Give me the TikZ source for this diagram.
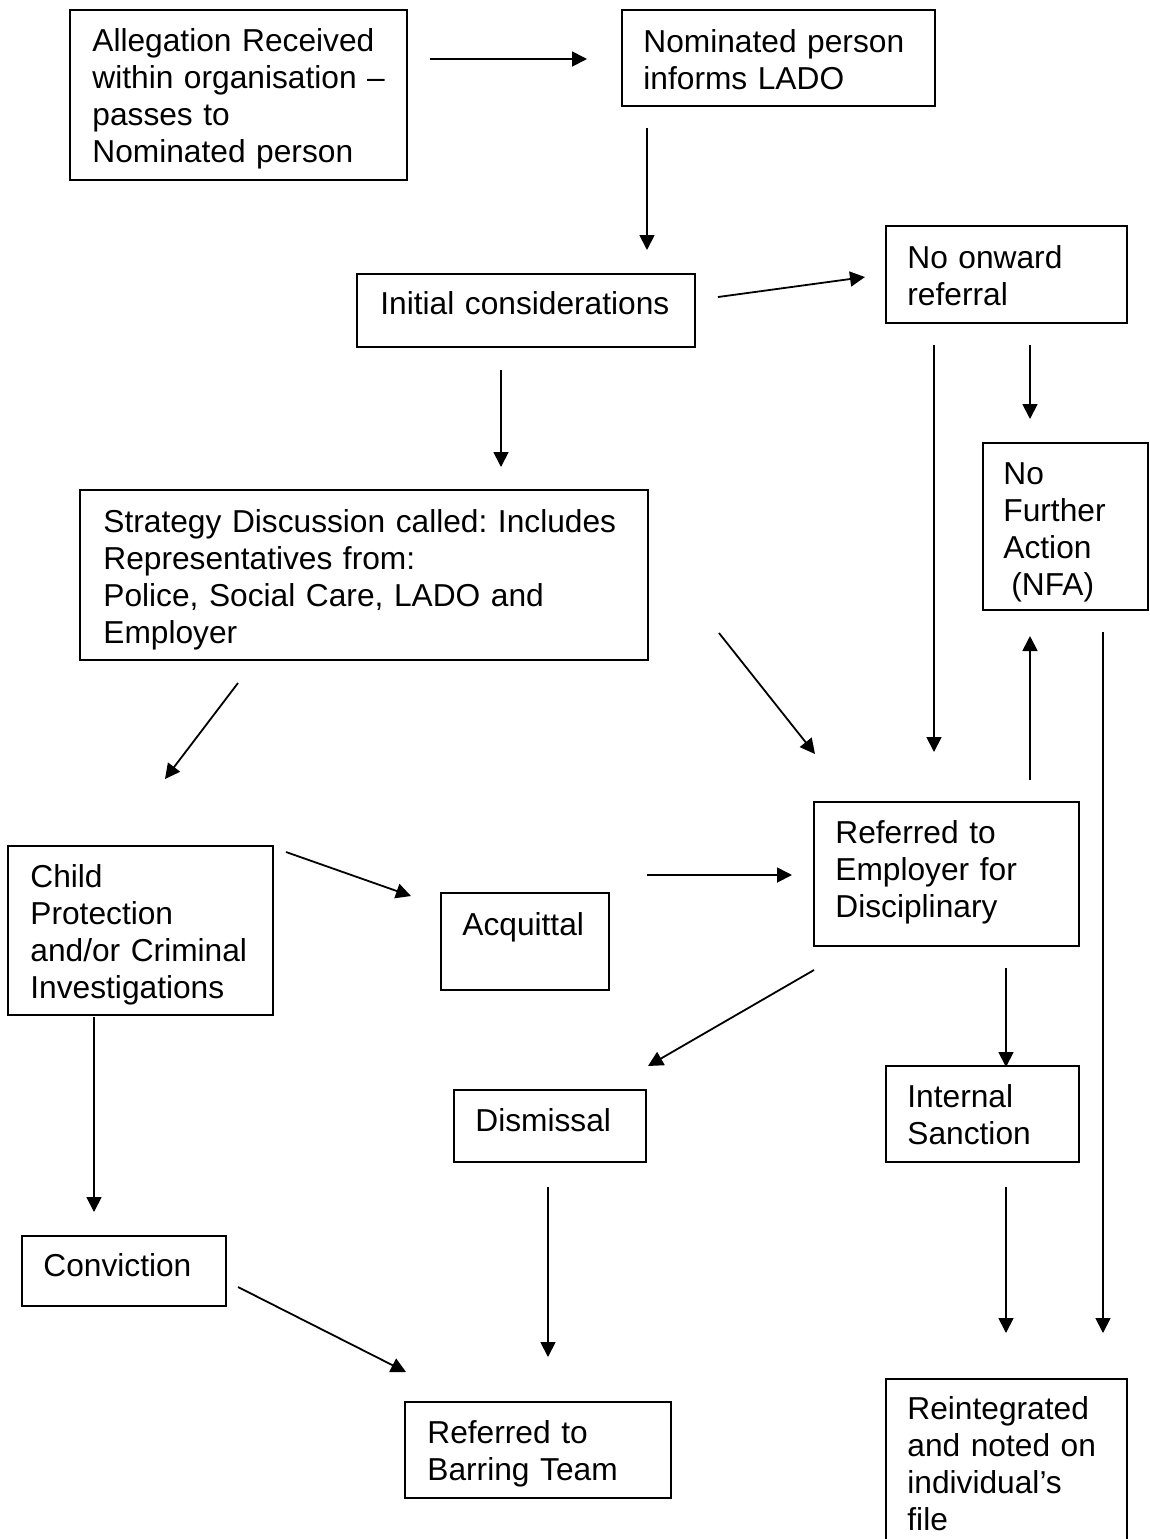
\documentclass[tikz,border=0pt]{standalone}
\usepackage{fontspec}
\setmainfont{Liberation Sans}
\usetikzlibrary{arrows.meta,fit}
\tikzset{
  box/.style={draw=black, line width=1pt, inner sep=0pt, rectangle},
  txt/.style={inner sep=0pt, anchor=base west, align=left, text width=300pt,
    font=\fontsize{15.85pt}{18.5pt}\selectfont\frenchspacing},
  arr/.style={draw=black, line width=0.9pt, -{Triangle[length=7.5pt,width=7.5pt]}}
}
\begin{document}
\begin{tikzpicture}[x=0.5pt,y=-0.5pt]
\clip (0,0) rectangle (1150,1539);
\fill[white] (0,0) rectangle (1150,1539);
% boxes
\node[box, fit={(70,10) (407,180)}] (b1) {};
\node[box, fit={(622,10) (935,106)}] (b2) {};
\node[box, fit={(357,274) (695,347)}] (b3) {};
\node[box, fit={(886,226) (1127,323)}] (b4) {};
\node[box, fit={(983,443) (1148,610)}] (b5) {};
\node[box, fit={(80,490) (648,660)}] (b6) {};
\node[box, fit={(8,846) (273,1015)}] (b7) {};
\node[box, fit={(441,893) (609,990)}] (b8) {};
\node[box, fit={(814,802) (1079,946)}] (b9) {};
\node[box, fit={(454,1090) (646,1162)}] (b10) {};
\node[box, fit={(886,1066) (1079,1162)}] (b11) {};
\node[box, fit={(22,1236) (226,1306)}] (b12) {};
\node[box, fit={(405,1402) (671,1498)}] (b13) {};
\node[box, fit={(886,1379) (1127,1570)}] (b14) {};
% texts
\node[txt] (t1) at (92,51) {Allegation Received\\within organisation –\\passes to\\Nominated person};
\node[txt] (t2) at (643,52) {Nominated person\\informs LADO};
\node[txt] (t3) at (380,314) {Initial considerations};
\node[txt] (t4) at (907,268) {No onward\\referral};
\node[txt] (t5) at (1003,484) {No\\Further\\Action\\\hspace*{0.25em}(NFA)};
\node[txt] (t6) at (103,532) {Strategy Discussion called: Includes\\Representatives from:\\Police, Social Care, LADO and\\Employer};
\node[txt] (t7) at (30,887) {Child\\Protection\\and/or Criminal\\Investigations};
\node[txt] (t8) at (462,935) {Acquittal};
\node[txt] (t9) at (835,843) {Referred to\\Employer for\\Disciplinary};
\node[txt] (t10) at (475,1131) {Dismissal};
\node[txt] (t11) at (907,1107) {Internal\\Sanction};
\node[txt] (t12) at (43,1276) {Conviction};
\node[txt] (t13) at (427,1443) {Referred to\\Barring Team};
\node[txt] (t14) at (907,1419) {Reintegrated\\and noted on\\individual’s\\file};
% arrow end points
\coordinate (a1s) at (430,59);   \coordinate (a1e) at (587,59);
\coordinate (a2s) at (647,128);  \coordinate (a2e) at (647,250);
\coordinate (a3s) at (718,297);  \coordinate (a3e) at (865,277);
\coordinate (a4s) at (501,370);  \coordinate (a4e) at (501,467);
\coordinate (a5s) at (934,345);  \coordinate (a5e) at (934,752);
\coordinate (a6s) at (1030,345); \coordinate (a6e) at (1030,419);
\coordinate (a7s) at (719,633);  \coordinate (a7e) at (815,754);
\coordinate (a8s) at (238,683);  \coordinate (a8e) at (165,779);
\coordinate (a9s) at (1030,780); \coordinate (a9e) at (1030,636);
\coordinate (a10s) at (1103,632); \coordinate (a10e) at (1103,1333);
\coordinate (a11s) at (286,852);  \coordinate (a11e) at (411,896);
\coordinate (a12s) at (647,875);  \coordinate (a12e) at (792,875);
\coordinate (a13s) at (814,970);  \coordinate (a13e) at (648,1066);
\coordinate (a14s) at (1006,968); \coordinate (a14e) at (1006,1067);
\coordinate (a15s) at (94,1017);  \coordinate (a15e) at (94,1212);
\coordinate (a16s) at (548,1187); \coordinate (a16e) at (548,1357);
\coordinate (a17s) at (1006,1187); \coordinate (a17e) at (1006,1333);
\coordinate (a18s) at (238,1287); \coordinate (a18e) at (406,1372);
% arrows
\foreach \i in {1,...,18} { \draw[arr] (a\i s) -- (a\i e); }
\end{tikzpicture}
\end{document}
